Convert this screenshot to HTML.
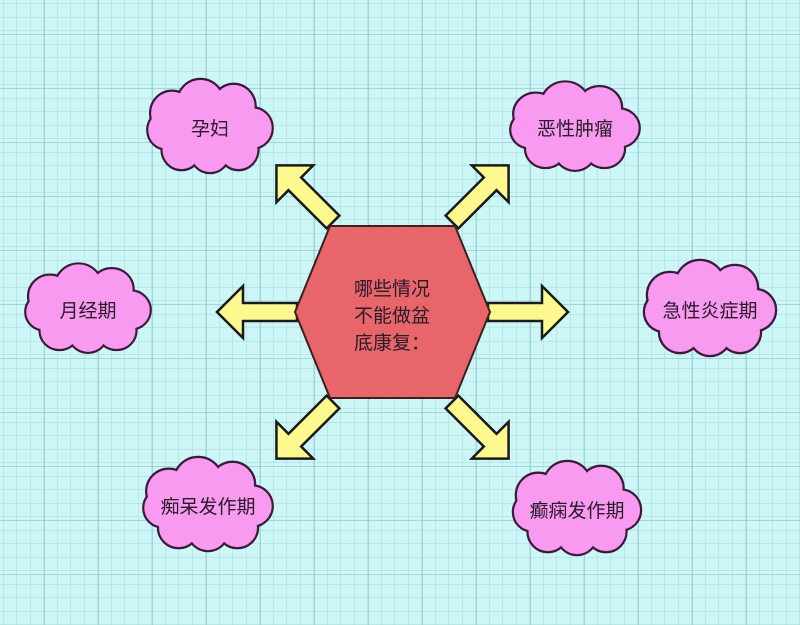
<!DOCTYPE html>
<html><head><meta charset="utf-8"><style>
body{margin:0;width:800px;height:625px;overflow:hidden;background:#cdf6f6;}
svg{display:block}
text{font-family:"Liberation Sans","Noto Sans CJK SC",sans-serif;fill:#2a1a2a;}
</style></head><body>
<svg width="800" height="625" viewBox="0 0 800 625" xmlns="http://www.w3.org/2000/svg">
<defs>
<pattern id="minor" width="13.5" height="13.5" patternUnits="userSpaceOnUse" x="3.5" y="4">
<path d="M13.5 0V13.5H0" fill="none" stroke="#a8d8d8" stroke-width="1"/>
</pattern>
<pattern id="major" width="54" height="54" patternUnits="userSpaceOnUse" x="44" y="34">
<path d="M0 0V54M0 0H54" fill="none" stroke="#88c4c6" stroke-width="1.3"/>
</pattern>
<g id="cloudS">
<circle cx="-40" cy="-15" r="22"/><circle cx="-10" cy="-25" r="24"/><circle cx="25" cy="-22" r="22"/><circle cx="45" cy="0" r="20"/><circle cx="30" cy="22" r="20"/><circle cx="0" cy="25" r="20"/><circle cx="-30" cy="22" r="20"/><circle cx="-46" cy="2" r="19"/><circle cx="0" cy="0" r="35"/>
</g>
<g id="cloud">
<use href="#cloudS" fill="#f79af0" stroke="#3a1a3a" stroke-width="4.5"/>
<use href="#cloudS" fill="#f79af0" stroke="none"/>
</g>
<polygon id="arr" points="0,-9 54,-9 54,-26 80,0 54,26 54,9 0,9" fill="#fdf98e" stroke="#1a1a1a" stroke-width="2.5" stroke-linejoin="miter"/>
</defs>
<rect width="800" height="625" fill="#cdf6f6"/>
<rect width="800" height="625" fill="url(#minor)"/>
<rect width="800" height="625" fill="url(#major)"/>

<use href="#arr" transform="translate(297,312) rotate(180)"/>
<use href="#arr" transform="translate(488,312)"/>
<use href="#arr" transform="translate(333,222) rotate(-135)"/>
<use href="#arr" transform="translate(452,222) rotate(-45)"/>
<use href="#arr" transform="translate(333,402) rotate(135)"/>
<use href="#arr" transform="translate(452,402) rotate(45)"/>

<polygon points="330,226 455,226 490,312 455,398 330,398 295,312" fill="#e8666a" stroke="#3a2020" stroke-width="2"/>
<text x="392" y="295" font-size="19" text-anchor="middle">哪些情况</text>
<text x="392" y="322" font-size="19" text-anchor="middle">不能做盆</text>
<text x="392" y="349" font-size="19" text-anchor="middle">底康复：</text>

<use href="#cloud" transform="translate(210,128) scale(0.95,0.98)"/>
<text x="210" y="135" font-size="19" text-anchor="middle">孕妇</text>
<use href="#cloud" transform="translate(575,128) scale(0.98,0.93)"/>
<text x="575" y="135" font-size="19" text-anchor="middle">恶性肿瘤</text>
<use href="#cloud" transform="translate(88,310) scale(0.95,0.93)"/>
<text x="88" y="317" font-size="19" text-anchor="middle">月经期</text>
<use href="#cloud" transform="translate(710,310) scale(1,1)"/>
<text x="710" y="317" font-size="19" text-anchor="middle">急性炎症期</text>
<use href="#cloud" transform="translate(208,506) scale(0.98,0.98)"/>
<text x="208" y="513" font-size="19" text-anchor="middle">痴呆发作期</text>
<use href="#cloud" transform="translate(577,510) scale(0.97,0.98)"/>
<text x="577" y="517" font-size="19" text-anchor="middle">癫痫发作期</text>
</svg>
</body></html>
